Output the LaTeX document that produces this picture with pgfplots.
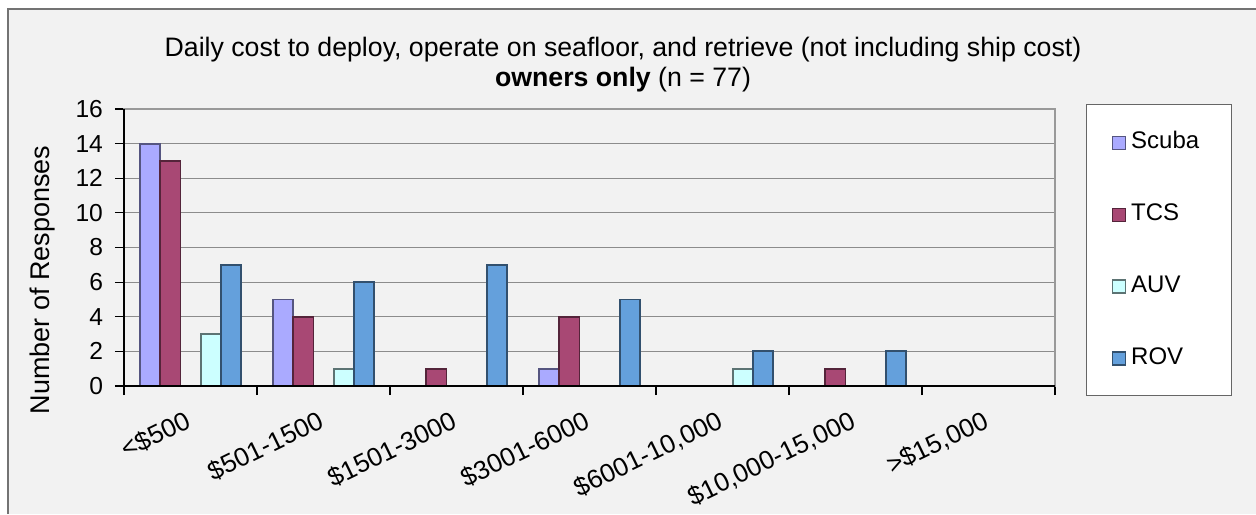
\documentclass[border=0pt]{standalone}
\usepackage{pgfplots}
\pgfplotsset{compat=1.18}
\usepackage{fontspec}
\setmainfont{Liberation Sans}
\definecolor{bgc}{HTML}{F2F2F2}
\definecolor{cscuba}{HTML}{AAAAFF}
\definecolor{ctcs}{HTML}{A84874}
\definecolor{cauv}{HTML}{CCFFFF}
\definecolor{crov}{HTML}{64A0DC}
\pgfplotsset{
  mybar/.style={ybar, bar width=10.1pt, line width=0.9pt,
    legend image code/.code={\draw[##1, line width=0.8pt] (0pt,-3.6pt) rectangle (6.5pt,2.9pt);}},
}
\begin{document}
\begin{tikzpicture}
\useasboundingbox (0,0) rectangle (628pt,257pt);
\fill[white] (0,0) rectangle (628pt,257pt);
\fill[bgc] (4pt,0) rectangle (628pt,252.5pt);
\draw[black!55, line width=1pt] (4pt,0) -- (4pt,252.5pt) -- (628pt,252.5pt);
\node[anchor=base, font=\fontsize{13.35}{15}\selectfont] at (311.5pt,228.5pt) {Daily cost to deploy, operate on seafloor, and retrieve (not including ship cost)};
\node[anchor=base, font=\fontsize{13.35}{15}\selectfont] at (311.5pt,213.5pt) {\textbf{owners only} (n = 77)};
\begin{axis}[
  at={(62pt,64pt)}, anchor=south west,
  width=465.5pt, height=138.5pt, scale only axis,
  xmin=-0.5, xmax=6.5, ymin=0, ymax=16,
  ytick={0,2,...,16},
  xtick={0,...,6},
  xticklabels={{<\$500},{\$501-1500},{\$1501-3000},{\$3001-6000},{\$6001-10,000},{\$10,000-15,000},{>\$15,000}},
  minor xtick={-0.5,0.5,...,6.5},
  tick align=outside,
  xtick pos=bottom, ytick pos=left,
  major tick length=4.5pt, minor tick length=4.5pt,
  major x tick style={draw=none},
  tick style={black, line width=0.6pt},
  axis line style={black!40, line width=0.8pt},
  ymajorgrids, major grid style={black!45, line width=0.6pt},
  /pgf/number format/assume math mode=true,
  yticklabel style={font=\fontsize{12.3}{14}\selectfont, xshift=-2.5pt},
  xticklabel style={font=\fontsize{13}{15}\selectfont, yshift=-15.8pt, xshift=1pt, rotate=26, anchor=base east, inner sep=0pt},
  ylabel={Number of Responses},
  ylabel style={at={(rel axis cs:-0.087,0.383)}, anchor=center, font=\fontsize{13.5}{15}\selectfont},
  axis background/.style={fill=bgc},
  legend style={draw=black!60, line width=0.6pt, fill=white, at={(1.0333,1.018)}, anchor=north west,
    font=\fontsize{12}{14}\selectfont, inner xsep=12.5pt, inner ysep=13.5pt, row sep=25.35pt,
    nodes={inner sep=0pt, text height=8.6pt, text depth=2pt},
    /tikz/every odd column/.append style={column sep=2.5pt}},
  legend cell align=left,
  clip=false,
]
\addplot[mybar, bar shift=-20.25pt, fill=cscuba, draw=cscuba!50!black] coordinates {(0,14) (1,5) (3,1)};
\addplot[mybar, bar shift=-10.1pt, fill=ctcs, draw=ctcs!50!black] coordinates {(0,13) (1,4) (2,1) (3,4) (5,1)};
\addplot[mybar, bar shift=10.1pt, fill=cauv, draw=cauv!45!black] coordinates {(0,3) (1,1) (4,1)};
\addplot[mybar, bar shift=20.25pt, fill=crov, draw=crov!50!black] coordinates {(0,7) (1,6) (2,7) (3,5) (4,2) (5,2)};
\legend{Scuba\kern3.5pt, TCS, AUV, ROV}
\draw[black, line width=0.8pt] (rel axis cs:0,1) -- (rel axis cs:0,0) -- (rel axis cs:1,0);
\end{axis}
\end{tikzpicture}
\end{document}
